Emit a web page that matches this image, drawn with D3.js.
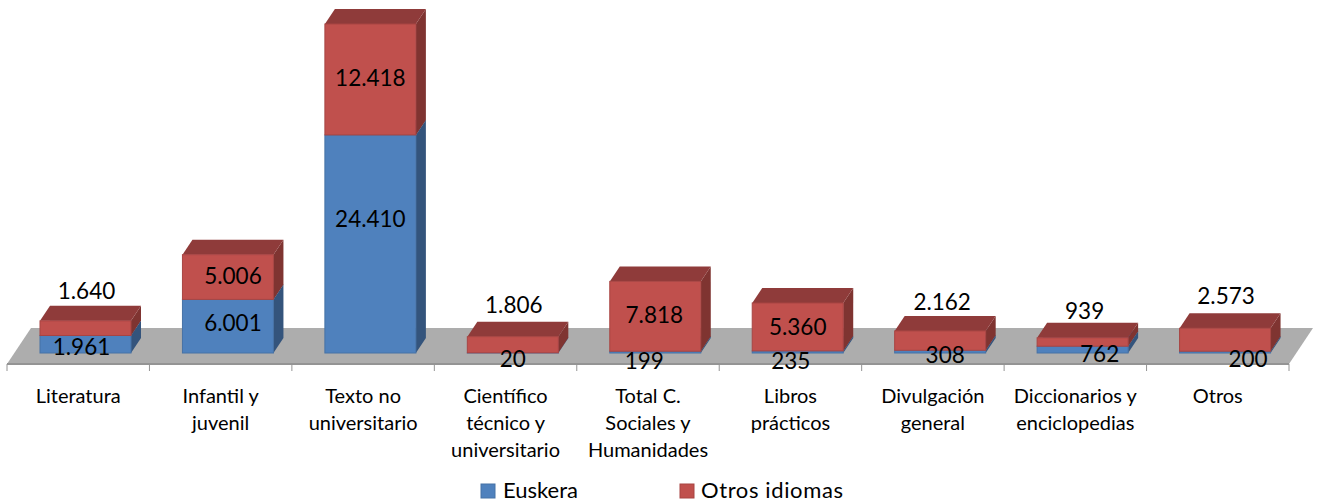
<!DOCTYPE html>
<html>
<head>
<meta charset="utf-8">
<script src="https://cdn.jsdelivr.net/npm/d3@7"></script>
<style>
	html, body {margin:0; padding:0; background:#fff; overflow:hidden;}
	text {font-family:Lato, "Open Sans", sans-serif; fill:#000;}
</style>
</head>
<body>
<script>
//chart data
const categories = ["Literatura", "Infantil y\njuvenil", "Texto no\nuniversitario", "Científico\ntécnico y\nuniversitario", "Total C.\nSociales y\nHumanidades", "Libros\nprácticos", "Divulgación\ngeneral", "Diccionarios y\nenciclopedias", "Otros"];
const euskera = [1961, 6001, 24410, 20, 199, 235, 308, 762, 200];
const otrosIdiomas = [1640, 5006, 12418, 1806, 7818, 5360, 2162, 939, 2573];
const seriesNames = ["Euskera", "Otros idiomas"];

//hand placed label nudges from the original, relative to segment centre
const euskeraNudge = [[-4,3],[5,-3],[0,-25],[0,6],[-11,9],[-7,9],[5,4],[17,5],[23,7]];
const otrosNudge = [[1,-37],[5,-1],[0,-1],[1,-40],[-1,-1],[0,0],[2,-38],[2,-31],[1,-44]];

//layout
const width = 1319, height = 504;
const baseY = 353, topY = 24;
const depthX = 10, depthY = 15;
const barOffset = 33, barWidth = 91;

const colors = [
	{front:"#4f81bd", side:"#34547c", top:"#3f6797", edge:"#4672a6"},
	{front:"#c0504d", side:"#7f3431", top:"#8f3b3a", edge:"#a84543"}
];

const svg = d3.select("body")
	.append("svg")
	.attr("width", width)
	.attr("height", height);

const xScale = d3.scaleBand().domain(categories).range([7, 1289]);
const yScale = d3.scaleLinear().domain([0, 36828]).range([baseY, topY]);

//floor
svg.append("polygon")
	.attr("points", "7,364 1289,364 1313,328 31,328")
	.attr("fill", "#adadad");

//axis line and ticks on the band edges
const tickXs = categories.map(function(c){ return xScale(c); }).concat([xScale.range()[1]]);
svg.append("line")
	.attr("x1", 7).attr("x2", 1289)
	.attr("y1", 364).attr("y2", 364)
	.attr("stroke", "#949494")
	.attr("stroke-width", 2);
svg.selectAll(".tick")
	.data(tickXs)
	.enter().append("line")
	.attr("class", "tick")
	.attr("x1", function(d){ return d; })
	.attr("x2", function(d){ return d; })
	.attr("y1", 364)
	.attr("y2", 371)
	.attr("stroke", "#949494");

//stack the two series
const rows = categories.map(function(c, i){
	return {cat:c, euskera:euskera[i], otros:otrosIdiomas[i]};
});
const stacked = d3.stack().keys(["euskera", "otros"])(rows);

//bars
stacked.forEach(function(layer, s){
	const g = svg.append("g").attr("class", "series" + s);
	const col = colors[s];

	function bx(d){ return xScale(d.data.cat) + barOffset; }

	//side face
	g.selectAll(".side").data(layer).enter().append("polygon")
		.attr("fill", col.side)
		.attr("points", function(d){
			const x = bx(d) + barWidth, y0 = yScale(d[0]), y1 = yScale(d[1]);
			return [[x,y0],[x+depthX,y0-depthY],[x+depthX,y1-depthY],[x,y1]].join(" ");
		});

	//top face
	g.selectAll(".top").data(layer).enter().append("polygon")
		.attr("fill", col.top)
		.attr("points", function(d){
			const x = bx(d), y = yScale(d[1]);
			return [[x,y],[x+depthX,y-depthY],[x+barWidth+depthX,y-depthY],[x+barWidth,y]].join(" ");
		});

	//front face
	g.selectAll(".front").data(layer).enter().append("rect")
		.attr("x", bx)
		.attr("y", function(d){ return yScale(d[1]); })
		.attr("width", barWidth)
		.attr("height", function(d){ return yScale(d[0]) - yScale(d[1]); })
		.attr("fill", col.front)
		.attr("stroke", col.edge)
		.attr("stroke-width", 1);
});

//data labels
const fmt = d3.format(",d");
function labelText(v){ return fmt(v).replace(/,/g, "."); }

stacked.forEach(function(layer, s){
	const nudge = s === 0 ? euskeraNudge : otrosNudge;
	svg.append("g").selectAll("text")
		.data(layer)
		.enter().append("text")
		.attr("x", function(d, i){ return xScale(d.data.cat) + barOffset + barWidth/2 + nudge[i][0]; })
		.attr("y", function(d, i){ return (yScale(d[0]) + yScale(d[1]))/2 + nudge[i][1]; })
		.attr("dy", "0.35em")
		.attr("text-anchor", "middle")
		.attr("font-size", 22.5)
		.text(function(d){ return labelText(d[1] - d[0]); });
});

//category labels
const catText = svg.append("g").selectAll("text")
	.data(categories)
	.enter().append("text")
	.attr("text-anchor", "middle")
	.attr("font-size", 20);
catText.selectAll("tspan")
	.data(function(d){ return d.split("\n").map(function(t){ return {cat:d, t:t}; }); })
	.enter().append("tspan")
	.attr("x", function(d){ return xScale(d.cat) + xScale.bandwidth()/2; })
	.attr("y", function(d, i){ return 403 + i*27; })
	.text(function(d){ return d.t; });

//legend
const legendX = [481, 680];
const legendTextX = [503, 701];
const legendTextW = [75, 142];
const legend = svg.append("g").selectAll("g")
	.data(seriesNames)
	.enter().append("g");
legend.append("rect")
	.attr("x", function(d, i){ return legendX[i]; })
	.attr("y", 484)
	.attr("width", 14)
	.attr("height", 14)
	.attr("fill", function(d, i){ return colors[i].front; })
	.attr("stroke", function(d, i){ return colors[i].edge; });
legend.append("text")
	.attr("x", function(d, i){ return legendTextX[i]; })
	.attr("y", 498)
	.attr("font-size", 22)
	.attr("textLength", function(d, i){ return legendTextW[i]; })
	.text(function(d){ return d; });
</script>
</body>
</html>
